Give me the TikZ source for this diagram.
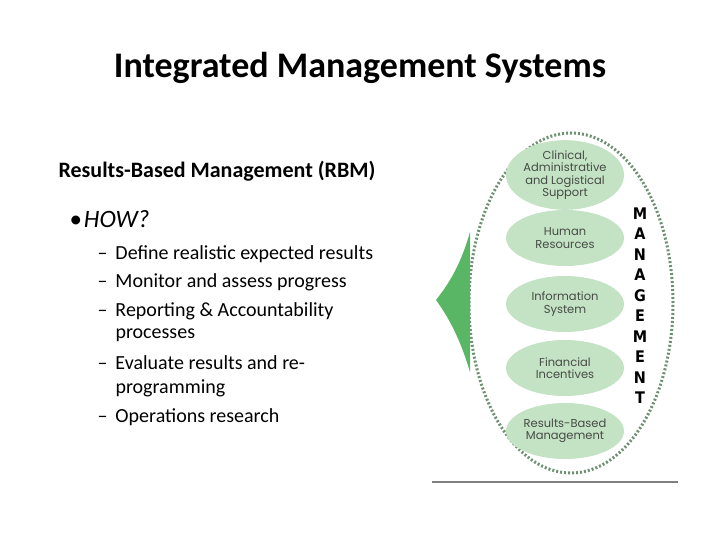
\documentclass[tikz,border=0pt]{standalone}
\usepackage{fontspec}
\setmainfont{Carlito}
\newfontfamily\geo{Poppins}
\newfontfamily\cond{DejaVu Sans Condensed}
\definecolor{pale}{RGB}{196,226,196}
\definecolor{tri}{RGB}{88,182,100}
\definecolor{dotc}{RGB}{110,145,115}
\definecolor{gtext}{RGB}{70,75,70}
\begin{document}
\begin{tikzpicture}[x=1pt,y=-1pt,
  pill/.style={ellipse,fill=pale,minimum width=118pt,minimum height=56pt,inner sep=0pt,align=center,font=\geo\fontsize{11.5}{12.5}\selectfont,text=gtext},
  sub/.style={anchor=west,font=\fontsize{20}{24}\selectfont,align=left}]
\usetikzlibrary{shapes.geometric}
\useasboundingbox (0,0) rectangle (720,540);
\node[font=\bfseries\fontsize{36}{40}\selectfont] (title) at (360,68) {Integrated Management Systems};
\node[anchor=west,font=\bfseries\fontsize{22}{26}\selectfont] (rbm) at (55,171) {Results-Based Management (RBM)};
\node[anchor=west,font=\fontsize{25}{28}\selectfont] (how) at (66,219) {•\hspace{2pt}\itshape HOW?};
\foreach \y/\t in {254/Define realistic expected results,282/Monitor and assess progress,311/Reporting \& Accountability,363/Evaluate results and re-,417/Operations research}
  \node[sub] at (94,\y) {–\hspace{8pt}\t};
\node[sub] at (112,335) {processes};
\node[sub] at (112,388) {programming};
\draw[dotc,line width=3pt,dash pattern=on 2pt off 2pt] (571,303) ellipse (102pt and 170pt);
\fill[tri] (436,300) .. controls (452,280) and (462,260) .. (470,232) -- (470,372) .. controls (462,345) and (452,322) .. (436,300) -- cycle;
\node[pill] (a) at (565,175) {Clinical,\\Administrative\\and Logistical\\Support};
\node[pill] (b) at (565,238) {Human\\Resources};
\node[pill] (c) at (565,304) {Information\\System};
\node[pill] (d) at (565,368) {Financial\\Incentives};
\node[pill] (e) at (565,431) {Results-Based\\Management};
\foreach \l [count=\i] in {M,A,N,A,G,E,M,E,N,T}
  \node[font=\cond\bfseries\fontsize{16}{16}\selectfont] at (640,193+\i*20.5) {\l};
\draw[gray,line width=1.5pt] (432,482) -- (678,482);
\end{tikzpicture}
\end{document}
